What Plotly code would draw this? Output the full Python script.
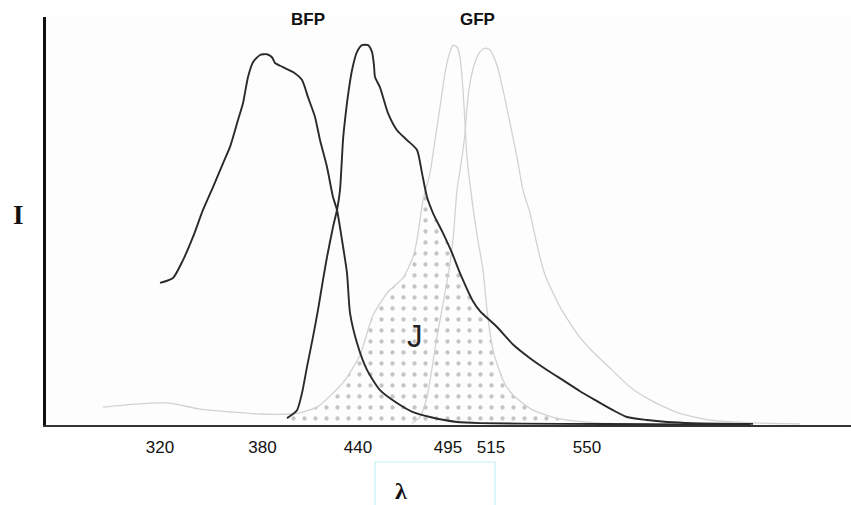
import numpy as np
import plotly.graph_objects as go

# ---- data (wavelength-like position, relative intensity %) ----
bfp_ex_x = [320, 326.5, 331.5, 336.5, 341.5, 346.5, 351.5, 355, 359, 361.5, 364, 366.5, 370, 373.5,
            376, 377.5, 381.5, 386.5, 391, 394, 397.5, 400, 403.5, 406.5, 408.5, 411, 413.5, 415,
            418.5, 423.5, 430, 438.5, 446.5, 455, 468.5, 480, 520, 565, 615]
bfp_ex_y = [37.4, 38.7, 43.4, 49.5, 56.6, 62.6, 68.9, 73.2, 80.3, 84.7, 91.6, 95.5, 97.4, 97.6,
            96.8, 95.3, 94.2, 92.9, 90.8, 86.3, 81.1, 75, 67.9, 60, 56.6, 48.7, 40, 29.5,
            21.6, 14.5, 9.2, 5.8, 3.4, 2.1, 0.8, 0.5, 0.3, 0.2, 0.0]

bfp_em_x = [383.5, 388.5, 391, 393.5, 396.5, 399, 401.5, 403.5, 406.5, 408.5, 410, 411.5, 412.5,
            414, 416, 418.5, 421, 424, 426, 427, 427.5, 430, 434, 438.5, 443.5, 448.5, 451,
            453.5, 456.5, 461.5, 466, 470, 476.5, 480, 488.5, 496.5, 505, 513.5, 521.5, 530,
            538.5, 546.5, 553.5, 563.5, 573.5, 586.5, 616.5]
bfp_em_y = [1.8, 3.9, 8.4, 15.3, 23.2, 30.3, 38.2, 44.2, 52.1, 56.6, 61.8, 75, 80.3,
            86.8, 93.4, 98.2, 100, 100, 98.2, 94.7, 91.6, 88.9, 82.1, 77.6, 75, 72.4, 66.3,
            60, 55.8, 50.5, 45.3, 40, 32.6, 30.0, 25.8, 21.2, 17.6, 14.5, 11.8, 8.9,
            6.3, 3.9, 2.1, 1.3, 0.8, 0.5, 0.3]

gfp_ex_x = [291.5, 307.5, 323.5, 340, 356.5, 370, 385, 390, 398.5, 405, 412.5, 420, 426.5, 434,
            441.5, 446.5, 448.5, 451.5, 455, 457.5, 460, 462.5, 464.5, 466.5, 468.5, 470, 471.5,
            472.5, 473.5, 476, 478.5, 481.5, 483.5, 486.5, 491.5, 496.5, 506.5, 520, 540, 565]
gfp_ex_y = [4.7, 5.5, 5.8, 4.2, 3.4, 2.9, 2.9, 3.2, 4.7, 7.6, 11.8, 18.4, 28.9, 35,
            38.7, 44.2, 48.7, 59.2, 66.3, 75, 83.7, 92.6, 97.4, 100, 99.5, 96.8, 88.2,
            79.5, 70.5, 59.2, 50, 40.8, 30.3, 19.7, 11.8, 7.9, 3.9, 1.6, 0.5, 0.3]

gfp_em_x = [446, 450, 453.5, 458.5, 464.5, 466.5, 468.5, 471, 472.5, 473.5, 475, 477.5, 480,
            482.5, 485, 488.5, 491.5, 495, 498.5, 501.5, 505, 508.5, 512.5, 520, 529, 536.5,
            545, 555, 565, 579, 595, 620, 640]
gfp_em_y = [0.5, 2.1, 7.4, 23.2, 40.8, 48.7, 61.8, 70.5, 76.8, 83.7, 90, 95.5, 98.2,
            99.2, 98.7, 94.7, 88.2, 79.5, 70.5, 61.8, 55.8, 47.4, 39.5, 31.1, 23.7, 19.2,
            15, 10, 6.6, 3.2, 1.3, 0.5, 0.3]

tick_vals = [320, 371.25, 419, 464, 485.5, 533.5]
tick_text = ["320", "380", "440", "495", "515", "550"]

# ---- overlap (J) region ----
grid = np.linspace(383.5, 530, 300)
ov = np.minimum(np.interp(grid, bfp_em_x, bfp_em_y, left=0, right=0),
                np.interp(grid, gfp_ex_x, gfp_ex_y, left=0, right=0))

fig = go.Figure()
fig.add_trace(go.Scatter(
    x=np.concatenate([grid, grid[::-1]]), y=np.concatenate([ov, np.zeros_like(ov)]),
    fill="toself", mode="lines", line=dict(width=0),
    fillcolor="rgba(255,255,255,0)",
    fillpattern=dict(shape=".", fgcolor="#8e8e8e", bgcolor="rgba(255,255,255,0)",
                     size=11, solidity=0.12),
    hoverinfo="skip", showlegend=False))

gray = dict(color="#d2d2d2", width=1.3, shape="spline", smoothing=0.6)
black = dict(color="#2a2a2a", width=1.9, shape="spline", smoothing=0.6)
fig.add_trace(go.Scatter(x=gfp_ex_x, y=gfp_ex_y, mode="lines", line=gray, showlegend=False))
fig.add_trace(go.Scatter(x=gfp_em_x, y=gfp_em_y, mode="lines", line=gray, showlegend=False))
fig.add_trace(go.Scatter(x=bfp_ex_x, y=bfp_ex_y, mode="lines", line=black, showlegend=False))
fig.add_trace(go.Scatter(x=bfp_em_x, y=bfp_em_y, mode="lines", line=black, showlegend=False))

SANS = "Liberation Sans, Arial, sans-serif"
SERIF = "Liberation Serif, Times New Roman, serif"

fig.update_layout(
    width=851, height=505,
    margin=dict(l=46, r=0, t=17, b=80),
    paper_bgcolor="white", plot_bgcolor="#fdfdfd",
    xaxis=dict(range=[263, 665.5], showgrid=False, zeroline=False,
               showline=True, linecolor="#333", linewidth=1.5,
               tickvals=tick_vals, ticktext=tick_text,
               ticks="outside", ticklen=6, tickcolor="rgba(0,0,0,0)",
               tickfont=dict(family=SANS, size=17, color="#111")),
    yaxis=dict(range=[0, 107.4], showgrid=False, zeroline=False,
               showline=True, linecolor="#111", linewidth=3,
               showticklabels=False, ticks=""),
    font=dict(family=SANS),
)

# plot area in page pixels: x 46..851, y 17..425
def px2paper(px, py):
    return (px - 46) / 805, (425 - py) / 408

annots = [
    ("<b>BFP</b>", 308, 20, SANS, 17, "#111"),
    ("<b>GFP</b>", 478, 20, SANS, 17, "#111"),
    ("<b>I</b>", 18, 215, SERIF, 27, "#111"),
    ("J", 415, 336, SANS, 31, "#222"),
    ("<b>λ</b>", 401, 491, SERIF, 24, "#111"),
]
for txt, px, py, fam, sz, col in annots:
    ax, ay = px2paper(px, py)
    fig.add_annotation(x=ax, y=ay, xref="paper", yref="paper",
                       xanchor="center", yanchor="middle", text=txt, showarrow=False,
                       font=dict(family=fam, size=sz, color=col))

# light cyan box around the lambda label
bx0, by1 = px2paper(375, 462)
bx1, by0 = px2paper(495, 508)
fig.add_shape(type="rect", xref="paper", yref="paper",
              x0=bx0, x1=bx1, y0=by0, y1=by1,
              line=dict(color="#c4f2f6", width=1.2), fillcolor="rgba(0,0,0,0)")

fig.write_html("out.html")
